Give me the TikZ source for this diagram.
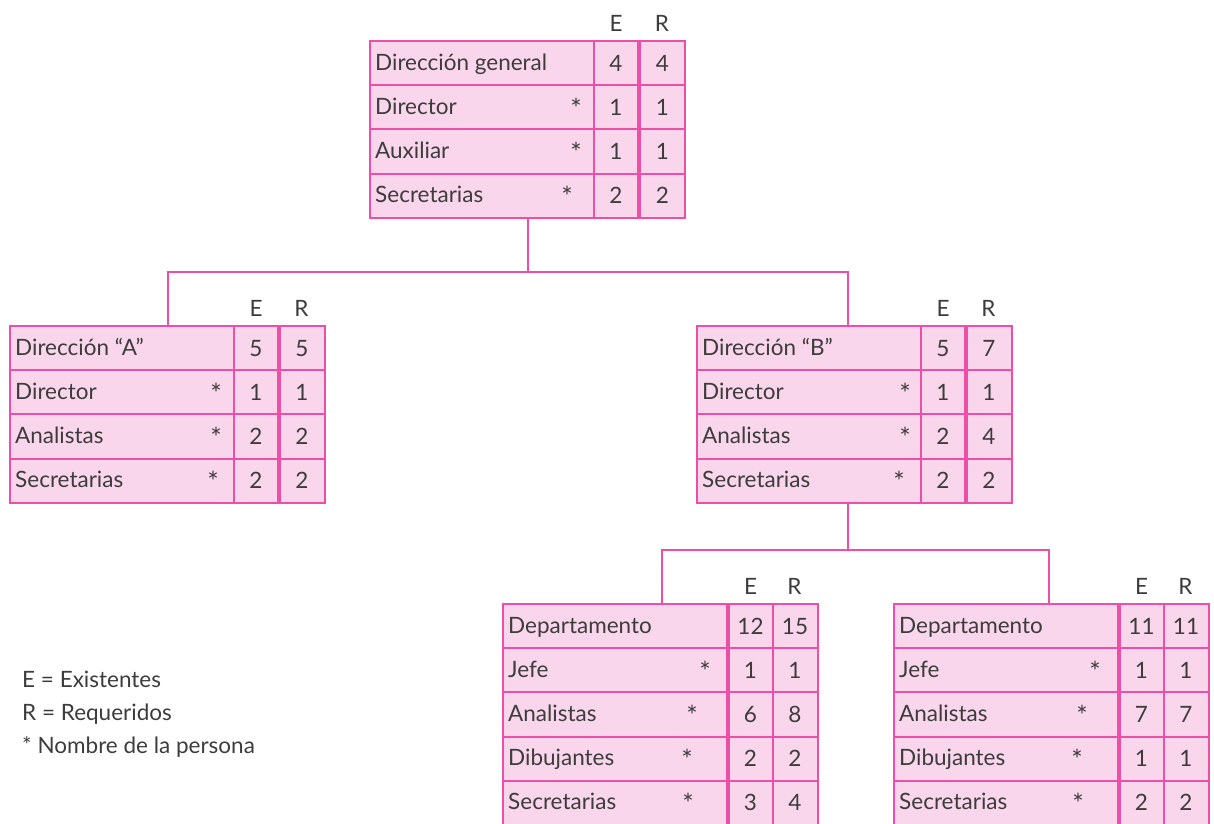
\documentclass[tikz,border=0pt]{standalone}
\usepackage{fontspec}
\setmainfont{Lato}
\usetikzlibrary{calc}
\definecolor{orgline}{HTML}{EE4FA6}
\definecolor{orgfill}{HTML}{FAD6EC}
\definecolor{orgtext}{HTML}{3C3C3C}
\newcommand\orgfont{\fontsize{22.5}{26}\selectfont}
\tikzset{
  cellbox/.style={draw=orgline, fill=orgfill, line width=2pt, inner sep=0pt,
    outer sep=0pt, minimum height=44.2pt, anchor=north west},
  lbl/.style={text=orgtext, font=\orgfont, inner sep=0pt, anchor=base west},
  num/.style={text=orgtext, font=\orgfont, inner sep=0pt, anchor=base},
  starmark/.style={text=orgtext, font=\fontsize{27}{30}\selectfont, inner sep=0pt, anchor=base},
  link/.style={draw=orgline, line width=2pt},
}
% #1 name, #2 left x, #3 top y, #4 gap label/E, #5 gap E/R,
% #6 rows: label/star offset (0 = none)/E/R
\newcommand\orgtab[6]{%
  \pgfmathsetmacro\colE{#2+224+#4}%
  \pgfmathsetmacro\colR{\colE+44+#5}%
  \node[num] (#1-he) at (\colE+22,#3-10) {E};
  \node[num] (#1-hr) at (\colR+22,#3-10) {R};
  \foreach \lab/\sx/\e/\r [count=\i] in {#6} {
    \pgfmathsetmacro\yy{#3+(\i-1)*44.2}
    \node[cellbox, minimum width=224pt] (#1-l\i) at (#2,\yy) {};
    \node[cellbox, minimum width=44pt] (#1-e\i) at (\colE,\yy) {};
    \node[cellbox, minimum width=45pt] (#1-r\i) at (\colR,\yy) {};
    \node[lbl] (#1-t\i) at (#2+5,\yy+29) {\lab};
    \ifnum\sx>0 \node[starmark] (#1-s\i) at (#2+\sx,\yy+33) {*};\fi
    \node[num] (#1-ev\i) at (\colE+22,\yy+30) {\e};
    \node[num] (#1-rv\i) at (\colR+22.5,\yy+30) {\r};
  }%
}
\begin{document}
\begin{tikzpicture}[x=1pt,y=-1pt]
\useasboundingbox (0,0) rectangle (1214,823);
\clip (0,0) rectangle (1214,823);

% organisation tables
\orgtab{top}{370}{41}{0}{2}{Dirección general/0/4/4, Director/206/1/1,
  Auxiliar/206/1/1, Secretarias/197/2/2}
\orgtab{a}{10}{326}{0}{1.5}{Dirección “A”/0/5/5, Director/206/1/1,
  Analistas/206/2/2, Secretarias/203/2/2}
\orgtab{b}{697}{326}{0}{1.5}{Dirección “B”/0/5/7, Director/208/1/1,
  Analistas/208/2/4, Secretarias/202/2/2}
\orgtab{c}{503}{604}{1.5}{0}{Departamento/0/12/15, Jefe/202/1/1,
  Analistas/189/6/8, Dibujantes/184/2/2, Secretarias/185/3/4}
\orgtab{d}{894}{604}{1.5}{0}{Departamento/0/11/11, Jefe/201/1/1,
  Analistas/188/7/7, Dibujantes/183/1/1, Secretarias/184/2/2}

% connection points
\coordinate (top-out) at ($(top-l4.south west)+(158,0)$);
\coordinate (a-in) at ($(a-l1.north west)+(158,0)$);
\coordinate (b-in) at ($(b-l1.north west)+(151,0)$);
\coordinate (b-out) at ($(b-l4.south west)+(151,0)$);
\coordinate (c-in) at ($(c-l1.north west)+(159,0)$);
\coordinate (d-in) at ($(d-l1.north west)+(155,0)$);

% connectors
\draw[link] (top-out) -- ++(0,54) coordinate (j1);
\draw[link] (a-in) |- (j1) -| (b-in);
\draw[link] (b-out) -- ++(0,47) coordinate (j2);
\draw[link] (c-in) |- (j2) -| (d-in);

% legend
\node[lbl] (leg1) at (22,687) {E = Existentes};
\node[lbl] (leg2) at (22,720) {R = Requeridos};
\node[lbl] (leg3) at (22,753) {* Nombre de la persona};
\end{tikzpicture}
\end{document}
